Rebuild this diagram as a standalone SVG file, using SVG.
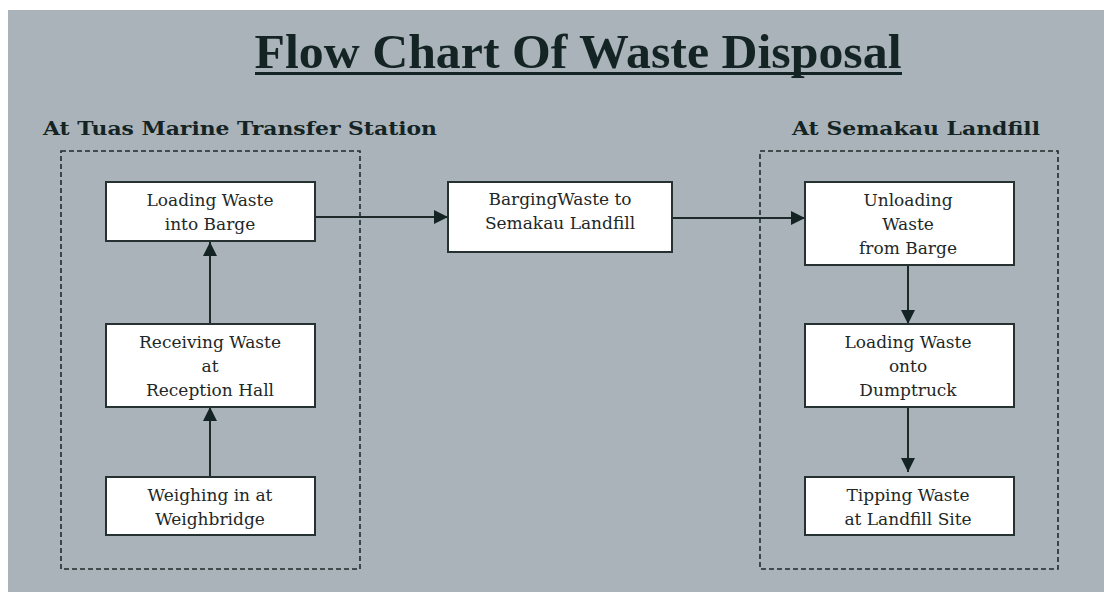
<svg xmlns="http://www.w3.org/2000/svg" width="1104" height="592" viewBox="0 0 1104 592">
<defs>
<style>
.bg{fill:#aab3b9}
.title{font-family:"Liberation Serif",serif;font-weight:bold;font-size:48px;fill:#142424}
.sec{font-family:"DejaVu Serif",serif;font-weight:bold;font-size:19px;fill:#142424}
.group{fill:none;stroke:#1e2a2a;stroke-width:1.6;stroke-dasharray:5 3}
.box{fill:#ffffff;stroke:#263232;stroke-width:2}
.lbl{font-family:"DejaVu Serif",serif;font-size:17px;fill:#1e2828;text-anchor:middle}
.edge{fill:none;stroke:#1e2a2a;stroke-width:2}
</style>
<marker id="ah" viewBox="0 0 10 10" refX="10" refY="5" markerWidth="14" markerHeight="14" markerUnits="userSpaceOnUse" orient="auto">
<path d="M0,0 L10,5 L0,10 z" fill="#142424"/>
</marker>
</defs>
<rect width="1104" height="592" fill="#ffffff"/>
<rect class="bg" x="8" y="10" width="1096" height="582"/>

<g id="title">
<text class="title" x="578" y="68" text-anchor="middle" textLength="647" lengthAdjust="spacingAndGlyphs">Flow Chart Of Waste Disposal</text>
<rect x="255" y="72" width="647" height="3" fill="#142424"/>
</g>

<g id="tuas-station">
<text class="sec" x="43" y="135" textLength="394" lengthAdjust="spacingAndGlyphs">At Tuas Marine Transfer Station</text>
<rect class="group" x="61" y="151" width="299" height="418"/>
</g>

<g id="semakau-landfill">
<text class="sec" x="792" y="135" textLength="248" lengthAdjust="spacingAndGlyphs">At Semakau Landfill</text>
<rect class="group" x="760" y="151" width="298" height="418"/>
</g>

<g id="connectors">
<line class="edge" x1="210" y1="477" x2="210" y2="407" marker-end="url(#ah)"/>
<line class="edge" x1="210" y1="324" x2="210" y2="242" marker-end="url(#ah)"/>
<line class="edge" x1="315" y1="217" x2="448" y2="217" marker-end="url(#ah)"/>
<line class="edge" x1="672" y1="218" x2="805" y2="218" marker-end="url(#ah)"/>
<line class="edge" x1="908" y1="265" x2="908" y2="324" marker-end="url(#ah)"/>
<line class="edge" x1="908" y1="407" x2="908" y2="472" marker-end="url(#ah)"/>
</g>

<g id="loading-barge">
<rect class="box" x="106" y="182" width="209" height="59"/>
<text class="lbl" x="210" y="206">Loading  Waste</text>
<text class="lbl" x="210" y="230">into Barge</text>
</g>

<g id="receiving">
<rect class="box" x="106" y="324" width="209" height="83"/>
<text class="lbl" x="210" y="348">Receiving Waste</text>
<text class="lbl" x="210" y="372">at</text>
<text class="lbl" x="210" y="396">Reception Hall</text>
</g>

<g id="weighing">
<rect class="box" x="106" y="477" width="209" height="58"/>
<text class="lbl" x="210" y="501">Weighing in at</text>
<text class="lbl" x="210" y="525">Weighbridge</text>
</g>

<g id="barging">
<rect class="box" x="448" y="182" width="224" height="70"/>
<text class="lbl" x="560" y="205">BargingWaste to</text>
<text class="lbl" x="560" y="229">Semakau Landfill</text>
</g>

<g id="unloading">
<rect class="box" x="805" y="182" width="209" height="83"/>
<text class="lbl" x="908" y="206">Unloading</text>
<text class="lbl" x="908" y="230">Waste</text>
<text class="lbl" x="908" y="254">from Barge</text>
</g>

<g id="loading-dumptruck">
<rect class="box" x="805" y="324" width="209" height="83"/>
<text class="lbl" x="908" y="348">Loading Waste</text>
<text class="lbl" x="908" y="372">onto</text>
<text class="lbl" x="908" y="396">Dumptruck</text>
</g>

<g id="tipping">
<rect class="box" x="805" y="477" width="209" height="58"/>
<text class="lbl" x="908" y="501">Tipping Waste</text>
<text class="lbl" x="908" y="525">at Landfill Site</text>
</g>
</svg>
